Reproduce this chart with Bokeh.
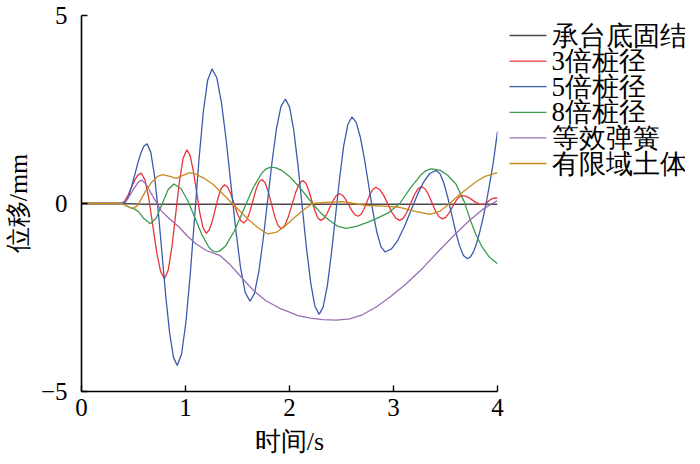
from bokeh.plotting import figure
from bokeh.layouts import row
from bokeh.models import Range1d, FixedTicker, ColumnDataSource
from bokeh.core.properties import value
from bokeh.embed import file_html
from bokeh.resources import INLINE

# ---- data (time in s, displacement in mm) ----
t_base = [0.0, 0.4, 0.6, 0.8, 1.0, 1.5, 2.0, 2.5, 3.0, 3.5, 4.0]
y_base = [0.0, 0.0, -0.02, -0.02, -0.02, -0.02, -0.02, -0.02, -0.02, -0.02, -0.02]

t_3d = [0.0, 0.38, 0.412, 0.445, 0.477, 0.509, 0.542, 0.574,
        0.611, 0.649, 0.686, 0.723, 0.761, 0.798,
        0.834, 0.870, 0.9055, 0.941, 0.977, 1.013,
        1.044, 1.075, 1.106, 1.137, 1.168, 1.199,
        1.228, 1.258, 1.287, 1.316, 1.346, 1.375,
        1.406, 1.437, 1.4675, 1.498, 1.529, 1.56,
        1.589, 1.618, 1.647, 1.676, 1.705, 1.734,
        1.765, 1.796, 1.827, 1.858, 1.889, 1.92,
        1.955, 1.989, 2.024, 2.059, 2.093, 2.128,
        2.157, 2.185, 2.214, 2.243, 2.271, 2.30,
        2.33, 2.36, 2.39, 2.42, 2.45, 2.48,
        2.51, 2.54, 2.57, 2.60, 2.63, 2.66,
        2.688, 2.717, 2.745, 2.773, 2.802, 2.83,
        2.868, 2.907, 2.945, 2.983, 3.022, 3.06,
        3.095, 3.13, 3.165, 3.20, 3.235, 3.27,
        3.303, 3.337, 3.37, 3.403, 3.437, 3.47,
        3.502, 3.533, 3.565, 3.597, 3.628, 3.66,
        3.693, 3.727, 3.76, 3.793, 3.827, 3.86,
        3.89, 3.92, 3.95, 3.98, 4.0]
y_3d = [0.0, 0.0, 0.054, 0.203, 0.405, 0.608, 0.756, 0.81,
        0.622, 0.107, -0.595, -1.298, -1.812, -2.0,
        -1.770, -1.142, -0.285, 0.573, 1.200, 1.43,
        1.281, 0.875, 0.32, -0.235, -0.641, -0.79,
        -0.704, -0.467, -0.145, 0.178, 0.414, 0.50,
        0.432, 0.245, -0.01, -0.265, -0.452, -0.52,
        -0.442, -0.23, 0.06, 0.35, 0.562, 0.64,
        0.552, 0.312, -0.015, -0.343, -0.582, -0.67,
        -0.584, -0.35, -0.03, 0.29, 0.524, 0.61,
        0.539, 0.345, 0.08, -0.185, -0.379, -0.45,
        -0.402, -0.272, -0.095, 0.083, 0.212, 0.26,
        0.22, 0.11, -0.04, -0.19, -0.30, -0.34,
        -0.288, -0.147, 0.045, 0.238, 0.378, 0.43,
        0.371, 0.21, -0.01, -0.23, -0.391, -0.45,
        -0.39, -0.225, 0.0, 0.225, 0.39, 0.45,
        0.392, 0.235, 0.02, -0.195, -0.352, -0.41,
        -0.368, -0.255, -0.10, 0.055, 0.168, 0.21,
        0.194, 0.15, 0.09, 0.03, -0.014, -0.03,
        0.0, 0.08, 0.13, 0.15, 0.14]

t_5d = [0.0, 0.40, 0.429, 0.4575, 0.486, 0.515, 0.544, 0.5725, 0.601, 0.63,
        0.666, 0.7025, 0.739, 0.775, 0.811, 0.8475, 0.884, 0.92,
        0.962, 1.004, 1.046, 1.0875, 1.129, 1.171, 1.213, 1.255,
        1.301, 1.346, 1.392, 1.4375, 1.483, 1.529, 1.574, 1.62,
        1.6625, 1.705, 1.7475, 1.79, 1.8325, 1.875, 1.9175, 1.96,
        2.001, 2.041, 2.082, 2.1225, 2.163, 2.204, 2.244, 2.285,
        2.324, 2.364, 2.403, 2.4425, 2.482, 2.521, 2.561, 2.60,
        2.64, 2.68, 2.72, 2.76, 2.80, 2.84, 2.88, 2.92,
        2.981, 3.0425, 3.104, 3.165, 3.226, 3.2875, 3.349, 3.41,
        3.4475, 3.485, 3.5225, 3.56, 3.5975, 3.635, 3.6725, 3.71,
        3.74, 3.77, 3.80, 3.83, 3.86, 3.89, 3.92, 3.96, 4.0]
y_5d = [0.0, 0.0, 0.060, 0.232, 0.491, 0.795, 1.099, 1.358, 1.530, 1.59,
        1.366, 0.729, -0.233, -1.36, -2.487, -3.449, -4.086, -4.31,
        -4.010, -3.158, -1.872, -0.365, 1.142, 2.428, 3.280, 3.58,
        3.345, 2.678, 1.670, 0.49, -0.690, -1.698, -2.365, -2.60,
        -2.396, -1.815, -0.938, 0.09, 1.118, 1.995, 2.576, 2.78,
        2.562, 1.943, 1.009, -0.085, -1.179, -2.113, -2.732, -2.95,
        -2.750, -2.183, -1.328, -0.325, 0.678, 1.534, 2.101, 2.30,
        2.164, 1.776, 1.191, 0.505, -0.181, -0.766, -1.154, -1.29,
        -1.208, -0.973, -0.619, -0.205, 0.209, 0.563, 0.798, 0.88,
        0.791, 0.537, 0.154, -0.295, -0.744, -1.127, -1.381, -1.47,
        -1.42, -1.28, -1.05, -0.75, -0.40, 0.0, 0.45, 1.1, 1.92]

t_8d = [0.0, 0.38, 0.42, 0.46, 0.50, 0.55, 0.60, 0.663, 0.719, 0.7755, 0.832, 0.888, 0.956, 1.024,
        1.0915, 1.159, 1.227, 1.26, 1.295, 1.33, 1.383, 1.471, 1.5595, 1.648, 1.736, 1.78, 1.824,
        1.87, 1.92, 2.0, 2.10, 2.22, 2.30, 2.385, 2.46, 2.545, 2.65, 2.75, 2.83, 2.95, 3.06, 3.16,
        3.26, 3.31, 3.36, 3.40, 3.45, 3.52, 3.60, 3.68, 3.74, 3.79, 3.85, 3.92, 4.0]
y_8d = [0.0, 0.0, -0.04, -0.1, -0.13, -0.22, -0.40, -0.54, -0.385, -0.01, 0.365, 0.52, 0.399, 0.067,
        -0.385, -0.838, -1.169, -1.26, -1.29, -1.26, -1.139, -0.725, -0.16, 0.405, 0.819, 0.93, 0.97,
        0.95, 0.89, 0.72, 0.42, 0.0, -0.25, -0.45, -0.6, -0.66, -0.6, -0.5, -0.41, -0.25, 0.0, 0.4,
        0.75, 0.87, 0.92, 0.91, 0.88, 0.75, 0.52, 0.05, -0.45, -0.81, -1.15, -1.42, -1.6]

t_spring = [0.0, 0.38, 0.44, 0.50, 0.55, 0.58, 0.62, 0.68, 0.765, 0.85, 0.94, 1.02, 1.10, 1.20, 1.33, 1.42,
            1.55, 1.66, 1.77, 1.90, 2.0, 2.08, 2.20, 2.32, 2.45, 2.58, 2.70, 2.83, 2.97, 3.12, 3.28,
            3.44, 3.58, 3.73, 3.86, 4.0]
y_spring = [0.0, 0.0, 0.1, 0.38, 0.58, 0.62, 0.52, 0.22, -0.19, -0.42, -0.63, -0.87, -1.07, -1.25, -1.38, -1.6,
            -2.0, -2.33, -2.58, -2.78, -2.89, -2.98, -3.05, -3.09, -3.1, -3.07, -2.96, -2.76, -2.48, -2.14, -1.72,
            -1.25, -0.85, -0.45, -0.15, 0.08]

t_soil = [0.0, 0.38, 0.43, 0.49, 0.54, 0.58, 0.62, 0.68, 0.73, 0.78, 0.85, 0.91, 0.97, 1.04, 1.10,
          1.18, 1.26, 1.35, 1.45, 1.53, 1.615, 1.70, 1.79, 1.87, 1.95, 2.03, 2.12, 2.22, 2.35, 2.51,
          2.62, 2.73, 2.90, 3.06, 3.20, 3.35, 3.45, 3.54, 3.62, 3.70, 3.79, 3.88, 4.0]
y_soil = [0.0, 0.0, -0.06, -0.14, -0.05, 0.15, 0.35, 0.58, 0.72, 0.77, 0.72, 0.67, 0.74, 0.82, 0.78,
          0.67, 0.52, 0.28, 0.0, -0.22, -0.45, -0.65, -0.81, -0.77, -0.62, -0.42, -0.2, 0.0, 0.03, 0.05,
          0.0, -0.05, -0.07, -0.1, -0.2, -0.29, -0.2, 0.0, 0.2, 0.38, 0.57, 0.72, 0.82]

labels = ["承台底固结", "3倍桩径", "5倍桩径", "8倍桩径", "等效弹簧", "有限域土体"]
colors = ["#4a4a4a", "#e8333a", "#3b5bab", "#3c9a4c", "#9a6db3", "#c98a1e"]
x_ticks = [0, 1, 2, 3, 4]
y_ticks = [-5, 0, 5]

SERIF = "Liberation Serif"

# ---------------- main chart ----------------
p = figure(frame_width=416, frame_height=376,
           x_range=Range1d(0, 4), y_range=Range1d(-5, 5),
           output_backend="svg", toolbar_location=None,
           min_border_left=75, min_border_right=8, min_border_top=15, min_border_bottom=60)
p.outline_line_color = None
p.grid.visible = False
p.background_fill_color = "white"
p.border_fill_color = "white"

series = [(t_base, y_base), (t_3d, y_3d), (t_5d, y_5d), (t_8d, y_8d), (t_spring, y_spring), (t_soil, y_soil)]
for (tx, ty), c in zip(series, colors):
    p.line(tx, ty, line_color=c, line_width=1.3)

for ax in (p.xaxis[0], p.yaxis[0]):
    ax.axis_line_width = 1.6
    ax.axis_line_color = "black"
    ax.major_tick_in = 6
    ax.major_tick_out = 0
    ax.major_tick_line_width = 1.4
    ax.minor_tick_line_color = None
    ax.major_label_text_font = SERIF
    ax.major_label_text_font_size = "25px"
    ax.major_label_text_color = "black"
    ax.axis_label_text_font = SERIF
    ax.axis_label_text_font_size = "26px"
    ax.axis_label_text_font_style = "normal"
    ax.axis_label_text_color = "black"

p.xaxis[0].ticker = FixedTicker(ticks=x_ticks)
p.yaxis[0].ticker = FixedTicker(ticks=y_ticks)
p.yaxis[0].major_label_overrides = {-5: "\u22125"}
p.xaxis[0].major_label_standoff = 7
p.yaxis[0].major_label_standoff = 14
p.xaxis[0].axis_label = "时间/s"
p.yaxis[0].axis_label = "位移/mm"
p.xaxis[0].axis_label_standoff = 8
p.yaxis[0].axis_label_standoff = 5

# ---------------- legend panel (frame aligned with the chart frame; pixel units, y downward) ----------------
LEG_W = 180
FRAME_TOP, FRAME_BOTTOM = 15, 391
row_y = [35 + 25.6 * i for i in range(len(labels))]
leg_src = ColumnDataSource(dict(
    y=row_y, label=labels, color=colors,
    x0=[4] * len(labels), x1=[41] * len(labels), xt=[46] * len(labels)))

lg = figure(frame_width=LEG_W, frame_height=376,
            x_range=Range1d(0, LEG_W), y_range=Range1d(FRAME_BOTTOM, FRAME_TOP),
            x_axis_location=None, y_axis_location=None,
            output_backend="svg", toolbar_location=None,
            min_border_left=0, min_border_right=0, min_border_top=15, min_border_bottom=60)
lg.outline_line_color = None
lg.grid.visible = False
lg.background_fill_color = "white"
lg.border_fill_color = "white"
lg.segment(x0="x0", y0="y", x1="x1", y1="y", line_color="color", line_width=1.3, source=leg_src)
lg.text(x="xt", y="y", text="label", source=leg_src, text_font=value(SERIF),
        text_font_size="27px", text_color="black", text_baseline="middle", text_align="left")

layout = row(p, lg)
open("out.html", "w").write(file_html(layout, INLINE))
